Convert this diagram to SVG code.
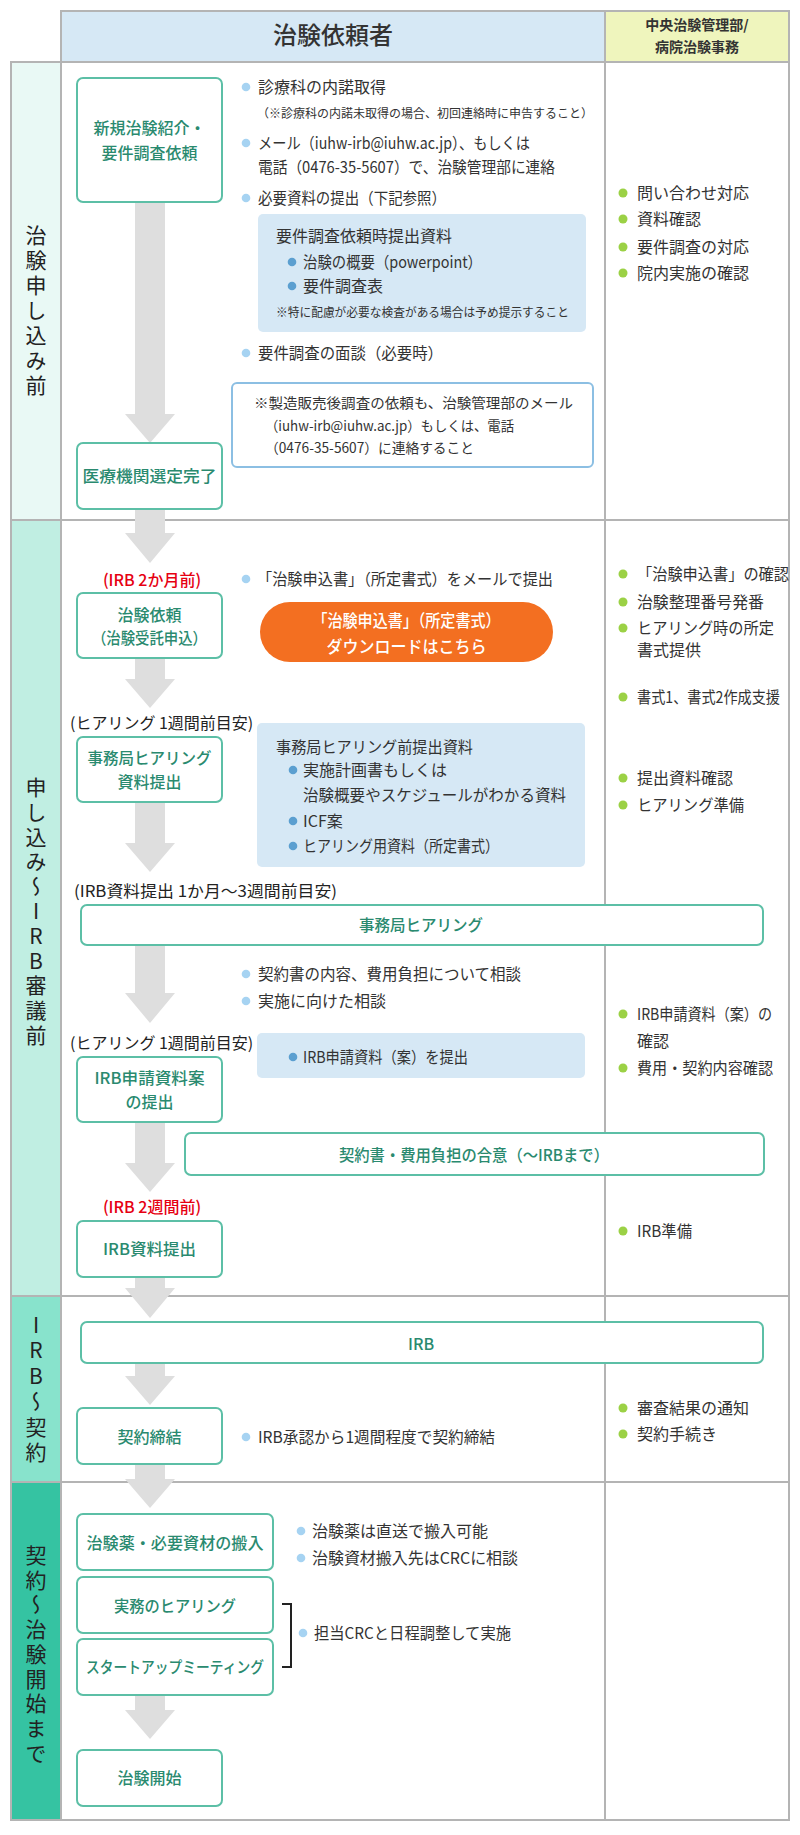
<svg xmlns="http://www.w3.org/2000/svg" width="800" height="1835" viewBox="0 0 800 1835">
<style>
text{font-family:'Noto Sans CJK JP','Noto Sans',sans-serif;font-size:16px;fill:#333}
.s12{font-size:12px}
.s14{font-size:14px}
.bx{fill:#fff;stroke:#5cbfa6;stroke-width:2}
.bt{fill:#2a8a6f;font-weight:500;text-anchor:middle}
.red{fill:#e60012;font-weight:500;text-anchor:middle}
.d1{fill:#a6d3f2}
.d2{fill:#5b9fd0}
.d3{fill:#9bd145}
.lab{font-size:21px;fill:#222;writing-mode:vertical-rl;text-orientation:upright;letter-spacing:4px}
.grid{stroke:#b4b4b4;stroke-width:2;fill:none}
.arr{fill:#dedede}
.bluebox{fill:#d6e8f5}
.pill{font-size:17px;font-weight:500;fill:#fff;text-anchor:middle}
</style>
<rect width="800" height="1835" fill="#fff"/>
<g id="header">
<rect x="61" y="11" width="544" height="51" fill="#d6e8f5"/>
<rect x="605" y="11" width="184" height="51" fill="#eff5bd"/>
<text x="333" y="44" style="font-size:24px;font-weight:500;text-anchor:middle">治験依頼者</text>
<text x="697" y="30" style="font-size:14px;font-weight:bold;text-anchor:middle">中央治験管理部/</text>
<text x="697" y="52" style="font-size:14px;font-weight:bold;text-anchor:middle">病院治験事務</text>
</g>
<g id="lanes">
<rect x="11" y="62" width="50" height="458" fill="#e9f9f5"/>
<rect x="11" y="520" width="50" height="776" fill="#c0eee2"/>
<rect x="11" y="1296" width="50" height="186" fill="#88e3cc"/>
<rect x="11" y="1482" width="50" height="338" fill="#35c3a2"/>
<text id="lane1-label" class="lab" x="36" y="224.5">治験申し込み前</text>
<text id="lane2-label" class="lab" x="36" y="776.5" style="letter-spacing:3.8px">申し込み〜IRB審議前</text>
<text id="lane3-label" class="lab" x="36" y="1314.5" style="letter-spacing:4.4px">IRB〜契約</text>
<text id="lane4-label" class="lab" x="36" y="1544.5" style="letter-spacing:3.75px">契約〜治験開始まで</text>
</g>
<g id="grid" class="grid">
<rect x="61" y="11" width="728" height="51"/>
<rect x="11" y="62" width="778" height="1758"/>
<line x1="61" y1="62" x2="61" y2="1820"/>
<line x1="605" y1="11" x2="605" y2="1820"/>
<line x1="11" y1="520" x2="789" y2="520"/>
<line x1="11" y1="1296" x2="789" y2="1296"/>
<line x1="11" y1="1482" x2="789" y2="1482"/>
</g>
<g id="connectors" class="arr">
<polygon points="135,202 165,202 165,414 175,414 150,443 125,414 135,414"/>
<polygon points="135,509 165,509 165,533 175,533 150,563 125,533 135,533"/>
<polygon points="135,658 165,658 165,679 175,679 150,708 125,679 135,679"/>
<polygon points="135,802 165,802 165,843 175,843 150,872 125,843 135,843"/>
<polygon points="135,945 165,945 165,993 175,993 150,1023 125,993 135,993"/>
<polygon points="135,1122 165,1122 165,1163 175,1163 150,1192 125,1163 135,1163"/>
<polygon points="135,1277 165,1277 165,1288 175,1288 150,1318 125,1288 135,1288"/>
<polygon points="135,1363 165,1363 165,1376 175,1376 150,1405 125,1376 135,1376"/>
<polygon points="135,1464 165,1464 165,1479 175,1479 150,1508 125,1479 135,1479"/>
<polygon points="135,1695 165,1695 165,1710 175,1710 150,1739 125,1710 135,1710"/>
</g>
<g id="n-shinki">
<rect class="bx" x="77" y="78" width="145" height="124" rx="6"/>
<text class="bt" x="149.5" y="134">新規治験紹介・</text>
<text class="bt" x="149.5" y="159">要件調査依頼</text>
</g>
<g id="n-iryo">
<rect class="bx" x="77" y="443" width="145" height="66" rx="6"/>
<text class="bt" x="149.5" y="482" textLength="134" lengthAdjust="spacingAndGlyphs">医療機関選定完了</text>
</g>
<g id="s1-notes">
<circle class="d1" cx="246" cy="87" r="4.3"/>
<text x="258" y="93">診療科の内諾取得</text>
<text class="s12" x="257" y="117.5" textLength="336" lengthAdjust="spacingAndGlyphs">（※診療科の内諾未取得の場合、初回連絡時に申告すること）</text>
<circle class="d1" cx="246" cy="143" r="4.3"/>
<text x="258" y="149" textLength="272" lengthAdjust="spacingAndGlyphs">メール（iuhw-irb@iuhw.ac.jp）、もしくは</text>
<text x="258" y="173" textLength="297" lengthAdjust="spacingAndGlyphs">電話（0476-35-5607）で、治験管理部に連絡</text>
<circle class="d1" cx="246" cy="198" r="4.3"/>
<text x="258" y="204" textLength="188" lengthAdjust="spacingAndGlyphs">必要資料の提出（下記参照）</text>
<circle class="d1" cx="246" cy="353" r="4.3"/>
<text x="258" y="359" textLength="185" lengthAdjust="spacingAndGlyphs">要件調査の面談（必要時）</text>
</g>
<g id="n-youken-docs">
<rect class="bluebox" x="258" y="214" width="328" height="118" rx="5"/>
<text x="276" y="242">要件調査依頼時提出資料</text>
<circle class="d2" cx="292" cy="262" r="4.3"/>
<text x="303" y="268" textLength="179" lengthAdjust="spacingAndGlyphs">治験の概要（powerpoint）</text>
<circle class="d2" cx="292" cy="286" r="4.3"/>
<text x="303" y="292">要件調査表</text>
<text class="s12" x="276" y="317" textLength="293" lengthAdjust="spacingAndGlyphs">※特に配慮が必要な検査がある場合は予め提示すること</text>
</g>
<g id="n-seizo-note">
<rect x="232" y="383" width="361" height="84" rx="5" fill="#fff" stroke="#8cbfe3" stroke-width="2"/>
<text class="s14" x="254" y="408" textLength="319" lengthAdjust="spacingAndGlyphs">※製造販売後調査の依頼も、治験管理部のメール</text>
<text class="s14" x="265" y="431" textLength="249" lengthAdjust="spacingAndGlyphs">（iuhw-irb@iuhw.ac.jp）もしくは、電話</text>
<text class="s14" x="265" y="453" textLength="209" lengthAdjust="spacingAndGlyphs">（0476-35-5607）に連絡すること</text>
</g>
<g id="s1-office">
<circle class="d3" cx="623" cy="193" r="4.5"/>
<text x="637" y="199">問い合わせ対応</text>
<circle class="d3" cx="623" cy="219" r="4.5"/>
<text x="637" y="225">資料確認</text>
<circle class="d3" cx="623" cy="247" r="4.5"/>
<text x="637" y="253">要件調査の対応</text>
<circle class="d3" cx="623" cy="273" r="4.5"/>
<text x="637" y="279">院内実施の確認</text>
</g>
<text class="red" x="152" y="586">(IRB 2か月前)</text>
<g id="n-irai">
<rect class="bx" x="77" y="593" width="145" height="65" rx="6"/>
<text class="bt" x="149.5" y="621">治験依頼</text>
<text class="bt" x="149.5" y="644" textLength="115" lengthAdjust="spacingAndGlyphs">（治験受託申込）</text>
</g>
<circle class="d1" cx="246" cy="579" r="4.3"/>
<text x="257" y="585" textLength="296" lengthAdjust="spacingAndGlyphs">「治験申込書」（所定書式）をメールで提出</text>
<g id="n-download">
<rect x="260" y="602" width="293" height="60" rx="30" fill="#f36f21"/>
<text class="pill" x="406.5" y="627" textLength="188" lengthAdjust="spacingAndGlyphs">「治験申込書」（所定書式）</text>
<text class="pill" x="406.5" y="652.5" textLength="160" lengthAdjust="spacingAndGlyphs">ダウンロードはこちら</text>
</g>
<text x="70" y="729" style="fill:#222">(ヒアリング 1週間前目安)</text>
<g id="n-jimu-docs">
<rect class="bx" x="77" y="737" width="145" height="65" rx="6"/>
<text class="bt" x="149.5" y="764" textLength="124" lengthAdjust="spacingAndGlyphs">事務局ヒアリング</text>
<text class="bt" x="149.5" y="788">資料提出</text>
</g>
<g id="n-jimu-list">
<rect class="bluebox" x="257" y="723" width="328" height="144" rx="5"/>
<text x="276" y="753" textLength="197" lengthAdjust="spacingAndGlyphs">事務局ヒアリング前提出資料</text>
<circle class="d2" cx="293" cy="770" r="4.3"/>
<text x="303" y="776">実施計画書もしくは</text>
<text x="303" y="801" textLength="263" lengthAdjust="spacingAndGlyphs">治験概要やスケジュールがわかる資料</text>
<circle class="d2" cx="293" cy="821" r="4.3"/>
<text x="303" y="827">ICF案</text>
<circle class="d2" cx="293" cy="846" r="4.3"/>
<text x="303" y="852" textLength="196" lengthAdjust="spacingAndGlyphs">ヒアリング用資料（所定書式）</text>
</g>
<text x="74" y="897" textLength="263" lengthAdjust="spacingAndGlyphs" style="fill:#222">(IRB資料提出 1か月〜3週間前目安)</text>
<g id="n-jimu-hearing">
<rect class="bx" x="81" y="905" width="682" height="40" rx="6"/>
<text class="bt" x="421" y="931" textLength="124" lengthAdjust="spacingAndGlyphs">事務局ヒアリング</text>
</g>
<g id="s2-notes">
<circle class="d1" cx="246" cy="974" r="4.3"/>
<text x="258" y="980" textLength="263" lengthAdjust="spacingAndGlyphs">契約書の内容、費用負担について相談</text>
<circle class="d1" cx="246" cy="1001" r="4.3"/>
<text x="258" y="1007">実施に向けた相談</text>
</g>
<text x="70" y="1049" style="fill:#222">(ヒアリング 1週間前目安)</text>
<g id="n-irb-submit-list">
<rect class="bluebox" x="257" y="1033" width="328" height="45" rx="5"/>
<circle class="d2" cx="293" cy="1057" r="4.3"/>
<text x="303" y="1063" textLength="165" lengthAdjust="spacingAndGlyphs">IRB申請資料（案）を提出</text>
</g>
<g id="n-irb-draft">
<rect class="bx" x="77" y="1057" width="145" height="65" rx="6"/>
<text class="bt" x="149.5" y="1084" textLength="110" lengthAdjust="spacingAndGlyphs">IRB申請資料案</text>
<text class="bt" x="149.5" y="1108">の提出</text>
</g>
<g id="n-agreement">
<rect class="bx" x="185" y="1133" width="579" height="42" rx="6"/>
<text class="bt" x="474" y="1161" textLength="270" lengthAdjust="spacingAndGlyphs">契約書・費用負担の合意（〜IRBまで）</text>
</g>
<text class="red" x="152" y="1213">(IRB 2週間前)</text>
<g id="n-irb-docs">
<rect class="bx" x="77" y="1221" width="145" height="56" rx="6"/>
<text class="bt" x="149.5" y="1255" textLength="93" lengthAdjust="spacingAndGlyphs">IRB資料提出</text>
</g>
<g id="s2-office">
<circle class="d3" cx="623" cy="574" r="4.5"/>
<text x="637" y="580" textLength="152" lengthAdjust="spacingAndGlyphs">「治験申込書」の確認</text>
<circle class="d3" cx="623" cy="602" r="4.5"/>
<text x="637" y="608" textLength="127" lengthAdjust="spacingAndGlyphs">治験整理番号発番</text>
<circle class="d3" cx="623" cy="628" r="4.5"/>
<text x="637" y="634" textLength="137" lengthAdjust="spacingAndGlyphs">ヒアリング時の所定</text>
<text x="637" y="656">書式提供</text>
<circle class="d3" cx="623" cy="697" r="4.5"/>
<text x="637" y="703" textLength="143" lengthAdjust="spacingAndGlyphs">書式1、書式2作成支援</text>
<circle class="d3" cx="623" cy="778" r="4.5"/>
<text x="637" y="784">提出資料確認</text>
<circle class="d3" cx="623" cy="805" r="4.5"/>
<text x="637" y="811" textLength="107" lengthAdjust="spacingAndGlyphs">ヒアリング準備</text>
<circle class="d3" cx="623" cy="1014" r="4.5"/>
<text x="637" y="1020" textLength="135" lengthAdjust="spacingAndGlyphs">IRB申請資料（案）の</text>
<text x="637" y="1047">確認</text>
<circle class="d3" cx="623" cy="1068" r="4.5"/>
<text x="637" y="1074" textLength="136" lengthAdjust="spacingAndGlyphs">費用・契約内容確認</text>
<circle class="d3" cx="623" cy="1231" r="4.5"/>
<text x="637" y="1237" textLength="55" lengthAdjust="spacingAndGlyphs">IRB準備</text>
</g>
<g id="n-irb">
<rect class="bx" x="81" y="1322" width="682" height="41" rx="6"/>
<text class="bt" x="421" y="1350">IRB</text>
</g>
<g id="n-keiyaku">
<rect class="bx" x="77" y="1408" width="145" height="56" rx="6"/>
<text class="bt" x="149.5" y="1443">契約締結</text>
</g>
<circle class="d1" cx="246" cy="1437" r="4.3"/>
<text x="258" y="1443" textLength="237" lengthAdjust="spacingAndGlyphs">IRB承認から1週間程度で契約締結</text>
<g id="s3-office">
<circle class="d3" cx="623" cy="1408" r="4.5"/>
<text x="637" y="1414">審査結果の通知</text>
<circle class="d3" cx="623" cy="1434" r="4.5"/>
<text x="637" y="1440">契約手続き</text>
</g>
<g id="n-hannyu">
<rect class="bx" x="77" y="1514" width="196" height="56" rx="6"/>
<text class="bt" x="175" y="1549" textLength="177" lengthAdjust="spacingAndGlyphs">治験薬・必要資材の搬入</text>
</g>
<g id="s4-notes">
<circle class="d1" cx="301" cy="1531" r="4.3"/>
<text x="312" y="1537">治験薬は直送で搬入可能</text>
<circle class="d1" cx="301" cy="1558" r="4.3"/>
<text x="312" y="1564" textLength="206" lengthAdjust="spacingAndGlyphs">治験資材搬入先はCRCに相談</text>
</g>
<g id="n-jitsumu">
<rect class="bx" x="77" y="1577" width="196" height="56" rx="6"/>
<text class="bt" x="175" y="1612" textLength="122" lengthAdjust="spacingAndGlyphs">実務のヒアリング</text>
</g>
<g id="n-startup">
<rect class="bx" x="77" y="1639" width="196" height="56" rx="6"/>
<text class="bt" x="175" y="1673" textLength="178" lengthAdjust="spacingAndGlyphs">スタートアップミーティング</text>
</g>
<g id="bracket">
<path d="M282 1604 H291 V1667 H282" fill="none" stroke="#222" stroke-width="2"/>
<circle class="d1" cx="303" cy="1633" r="4.3"/>
<text x="314" y="1639" textLength="197" lengthAdjust="spacingAndGlyphs">担当CRCと日程調整して実施</text>
</g>
<g id="n-start">
<rect class="bx" x="77" y="1750" width="145" height="56" rx="6"/>
<text class="bt" x="149.5" y="1784">治験開始</text>
</g>
</svg>
